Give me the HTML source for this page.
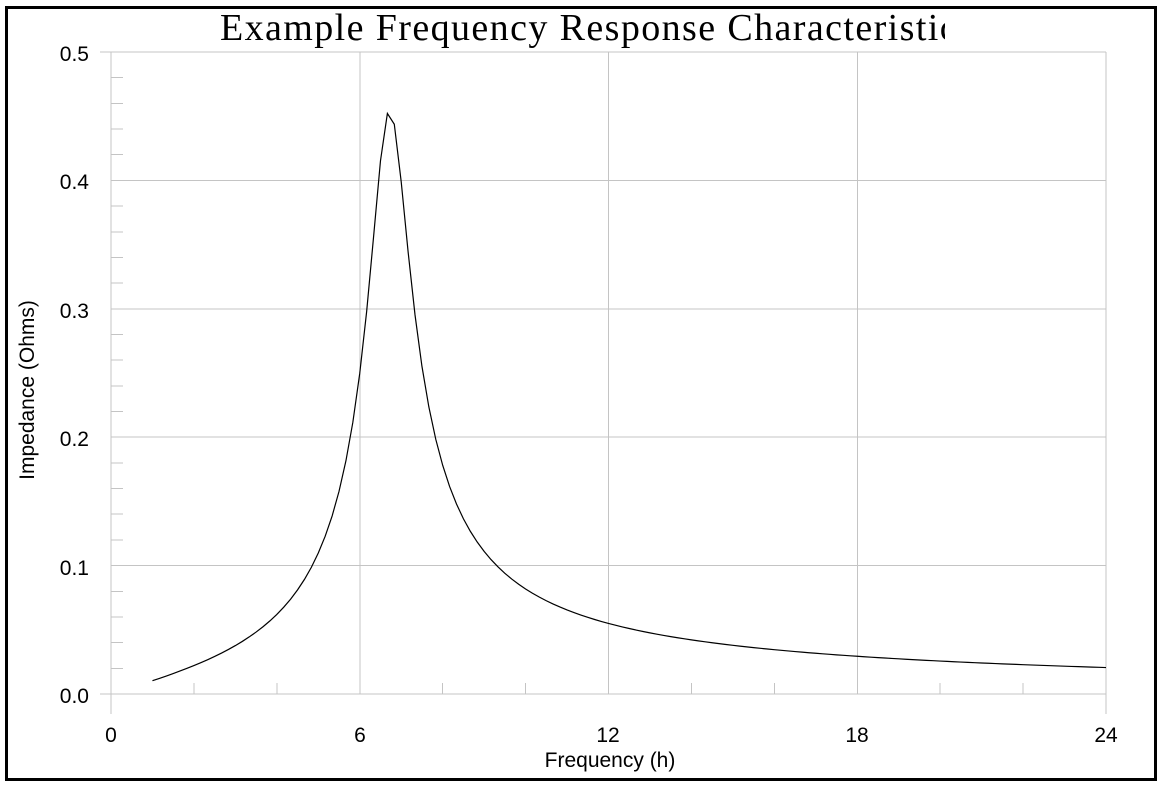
<!DOCTYPE html>
<html><head><meta charset="utf-8"><style>
html,body{margin:0;padding:0;background:#fff;}
body{width:1163px;height:788px;position:relative;overflow:hidden;}
</style></head><body>
<div style="position:absolute;left:0;top:0;width:945px;height:60px;overflow:hidden;">
<div style="position:absolute;left:220px;top:6px;white-space:nowrap;font-family:'Liberation Serif',serif;font-size:38px;letter-spacing:1.4px;line-height:44px;color:#000;">Example Frequency Response Characteristics</div>
</div>
<svg width="1163" height="788" xmlns="http://www.w3.org/2000/svg" style="position:absolute;left:0;top:0">
<rect x="6.5" y="7.5" width="1149" height="772" fill="none" stroke="#000" stroke-width="3"/>
<g id="grid" stroke="#c4c4c4" stroke-width="1" fill="none" shape-rendering="crispEdges"></g>
<path id="curve" fill="none" stroke="#000" stroke-width="1.2"/>
<g font-family="Liberation Sans, sans-serif" font-size="21" fill="#000">
<text x="89" y="61" text-anchor="end">0.5</text>
<text x="89" y="189" text-anchor="end">0.4</text>
<text x="89" y="318" text-anchor="end">0.3</text>
<text x="89" y="446" text-anchor="end">0.2</text>
<text x="89" y="575" text-anchor="end">0.1</text>
<text x="89" y="703" text-anchor="end">0.0</text>
<text x="111" y="742" text-anchor="middle">0</text>
<text x="360" y="742" text-anchor="middle">6</text>
<text x="608" y="742" text-anchor="middle">12</text>
<text x="857" y="742" text-anchor="middle">18</text>
<text x="1106" y="742" text-anchor="middle">24</text>
<text x="610" y="767" text-anchor="middle">Frequency (h)</text>
<text transform="translate(34,390) rotate(-90)" text-anchor="middle">Impedance (Ohms)</text>
</g>
</svg>
<script>
var X=function(h){return 111+h*(995/24);},Y=function(v){return 694-v*1284;};
var g=document.getElementById('grid'),s='';
for(var i=1;i<=5;i++){var y=Y(i/10);s+='<line x1="'+(i==5?100:111)+'" y1="'+y+'" x2="1106" y2="'+y+'"/>';}
s+='<line x1="100" y1="694" x2="1106" y2="694"/>';
for(var i=1;i<25;i++){if(i%5==0)continue;var y=Y(i/50);s+='<line x1="111" y1="'+y+'" x2="123" y2="'+y+'"/>';}
s+='<line x1="111" y1="52" x2="111" y2="714"/><line x1="1106" y1="52" x2="1106" y2="714"/>';
for(var h=6;h<24;h+=6){s+='<line x1="'+X(h)+'" y1="52" x2="'+X(h)+'" y2="694"/>';}
for(var h=2;h<24;h+=2){if(h%6==0)continue;s+='<line x1="'+X(h)+'" y1="683" x2="'+X(h)+'" y2="694"/>';}
g.innerHTML=s;
var A=0.0101,h0=6.72,Q=6.7,d='';
for(var k=6;k<=144;k++){var h=k/6;var r=1-(h/h0)*(h/h0),q=h/(h0*Q);var z=A*h/Math.sqrt(r*r+q*q);
d+=(k==6?'M':'L')+X(h).toFixed(2)+' '+Y(z).toFixed(2);}
document.getElementById('curve').setAttribute('d',d);
</script>
</body></html>
